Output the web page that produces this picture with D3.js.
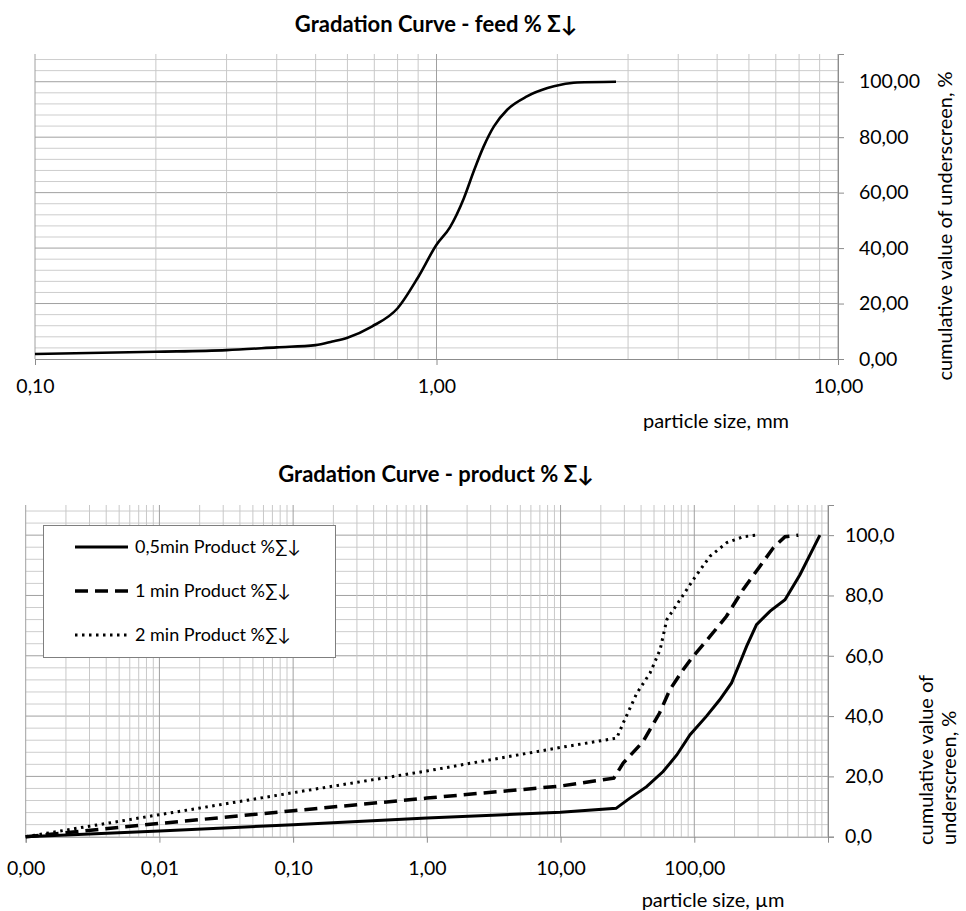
<!DOCTYPE html>
<html>
<head>
<meta charset="utf-8">
<script src="https://cdnjs.cloudflare.com/ajax/libs/d3/7.8.5/d3.min.js"></script>
<style>
  body { margin: 0; background: #fff; }
  svg { display: block; font-family: Lato, "Open Sans", "Noto Sans", sans-serif; }
</style>
</head>
<body>
<div id="chart"></div>
<script>
// feed curve (mm, cumulative %)
var feedSize = [0.1, 0.2, 0.3, 0.4, 0.5, 0.55, 0.6, 0.69, 0.8, 0.9, 1.0, 1.08, 1.17, 1.24, 1.31, 1.39, 1.5, 1.68, 1.89, 2.04, 2.24, 2.8];
var feedCum  = [1.8, 2.6, 3.2, 4.2, 5.0, 6.3, 7.7, 11.7, 18.3, 29.5, 41.2, 47.5, 58.0, 68.0, 76.6, 83.9, 89.9, 94.7, 97.7, 98.9, 99.7, 100];

// product curves (µm, cumulative %)
var p05Size = [0.001, 0.01, 0.1, 1, 10, 26, 33, 44, 58.5, 74, 93, 123, 155, 190, 219, 246, 292, 369, 477, 617, 870];
var p05Cum  = [0, 1.9, 4.0, 6.2, 8.1, 9.4, 12.8, 16.6, 21.6, 27.1, 33.8, 39.9, 45.4, 51.0, 57.6, 63.1, 70.3, 74.8, 78.6, 86.9, 100];
var p1Size  = [0.001, 0.01, 0.1, 1, 10, 25, 29.4, 41.5, 55, 65.6, 82.5, 98, 131, 174, 232, 310, 390, 477, 600];
var p1Cum   = [0, 4.4, 8.6, 12.8, 16.8, 19.4, 24.4, 31.6, 41.0, 48.7, 55.4, 59.8, 66.4, 73.1, 82.0, 89.7, 95.8, 99.5, 100];
var p2Size  = [0.001, 0.01, 0.1, 1, 10, 26.3, 29.4, 37.2, 46.7, 55.5, 62.3, 78.3, 98.5, 131, 175, 233, 293];
var p2Cum   = [0, 7.3, 14.6, 21.8, 29.6, 32.7, 37.7, 47.6, 54.3, 62.0, 72.0, 78.6, 85.3, 93.0, 97.5, 99.5, 100];

var legendNames = ["0,5min Product %∑↓", "1 min Product %∑↓", "2 min Product %∑↓"];

var topXTicks = [0.1, 1, 10];
var topYTicks = [0, 20, 40, 60, 80, 100];
var botXTicks = [0.001, 0.01, 0.1, 1, 10, 100];
var botYTicks = [0, 20, 40, 60, 80, 100];

var loc = d3.formatLocale({decimal: ",", thousands: ".", grouping: [3], currency: ["", ""]});
var f2 = loc.format(".2f"), f1 = loc.format(".1f");

var svg = d3.select("#chart").append("svg")
    .attr("width", 966).attr("height", 911);

function minorTicks(lo, hi) {
  var out = [];
  for (var e = Math.round(Math.log10(lo)); e < Math.round(Math.log10(hi)); e++) {
    for (var m = 1; m <= 9; m++) out.push(m * Math.pow(10, e));
  }
  out.push(hi);
  return out;
}

function drawPanel(opt) {
  var x = d3.scaleLog().domain(opt.xDomain).range([opt.left, opt.right]);
  var y = d3.scaleLinear().domain([0, 110]).range([opt.bottom, opt.top]);
  var g = svg.append("g");

  // horizontal grid, every 4 units, darker every 20
  d3.range(4, 110, 4).forEach(function(v) {
    g.append("line")
      .attr("x1", opt.left).attr("x2", opt.right)
      .attr("y1", y(v)).attr("y2", y(v))
      .attr("stroke", v % 20 === 0 ? "#a0a0a0" : "#cdcdcd").attr("stroke-width", 1);
  });
  // vertical grid
  minorTicks(opt.xDomain[0], opt.xDomain[1]).forEach(function(v) {
    var major = Math.abs(Math.log10(v) - Math.round(Math.log10(v))) < 1e-9;
    g.append("line")
      .attr("x1", x(v)).attr("x2", x(v))
      .attr("y1", opt.top).attr("y2", opt.bottom)
      .attr("stroke", major ? "#a0a0a0" : "#c8c8c8").attr("stroke-width", 1);
  });

  // axes
  var xAxis = d3.axisBottom(x).tickValues(opt.xTicks).tickFormat(opt.xFormat).tickSize(6);
  var gx = g.append("g").attr("transform", "translate(0," + opt.bottom + ")").call(xAxis);
  gx.attr("font-family", null);
  gx.select(".domain").attr("stroke", "#8c8c8c");
  gx.selectAll(".tick line").attr("stroke", "#8c8c8c");
  gx.selectAll(".tick text").attr("font-size", 19.5).attr("fill", "#000").attr("dy", opt.xLabelDy);

  var yAxis = d3.axisRight(y).tickValues(opt.yTicks).tickFormat(opt.yFormat).tickSize(6).tickPadding(opt.yPad);
  var gy = g.append("g").attr("transform", "translate(" + opt.right + ",0)").call(yAxis);
  gy.attr("font-family", null);
  gy.select(".domain").attr("stroke", "#8c8c8c");
  gy.selectAll(".tick line").attr("stroke", "#8c8c8c");
  gy.selectAll(".tick text").attr("font-size", 19.5).attr("fill", "#000");

  return {x: x, y: y, g: g};
}

// ---------- top panel ----------
var feedPanel = drawPanel({
  xDomain: [0.1, 10], left: 35, right: 838, top: 54, bottom: 359,
  xTicks: topXTicks, yTicks: topYTicks, xFormat: f2, yFormat: f2, xLabelDy: "1.3em", yPad: 15
});

var feedData = feedSize.map(function(d, i) { return [d, feedCum[i]]; });
feedPanel.g.append("path")
  .datum(feedData)
  .attr("fill", "none").attr("stroke", "#000").attr("stroke-width", 2.6)
  .attr("d", d3.line().curve(d3.curveMonotoneX)
    .x(function(d) { return feedPanel.x(d[0]); })
    .y(function(d) { return feedPanel.y(d[1]); }));

svg.append("text").attr("x", 436).attr("y", 32).attr("text-anchor", "middle")
  .attr("font-size", 22).attr("font-weight", "bold")
  .text("Gradation Curve - feed % Σ↓");
svg.append("text").attr("x", 716).attr("y", 428).attr("text-anchor", "middle")
  .attr("font-size", 20).text("particle size, mm");
svg.append("text").attr("transform", "translate(952,226) rotate(-90)")
  .attr("text-anchor", "middle").attr("font-size", 20)
  .text("cumulative value of underscreen, %");

// ---------- bottom panel ----------
var prodPanel = drawPanel({
  xDomain: [0.001, 1000], left: 25.7, right: 828, top: 505, bottom: 836.7,
  xTicks: botXTicks, yTicks: botYTicks, xFormat: f2, yFormat: f1, xLabelDy: "1.5em", yPad: 11
});

var series = [
  {size: p05Size, cum: p05Cum, dash: null, width: 3},
  {size: p1Size, cum: p1Cum, dash: "13,7", width: 3.5},
  {size: p2Size, cum: p2Cum, dash: "2.5,4.5", width: 3}
];

var line = d3.line()
  .x(function(d) { return prodPanel.x(d[0]); })
  .y(function(d) { return prodPanel.y(d[1]); });

series.forEach(function(s) {
  var data = s.size.map(function(d, i) { return [d, s.cum[i]]; });
  prodPanel.g.append("path").datum(data)
    .attr("fill", "none").attr("stroke", "#000")
    .attr("stroke-width", s.width)
    .attr("stroke-dasharray", s.dash)
    .attr("d", line);
});

// legend
var leg = svg.append("g");
leg.append("rect").attr("x", 43.5).attr("y", 525.5).attr("width", 292).attr("height", 132)
  .attr("fill", "#fff").attr("stroke", "#7f7f7f").attr("stroke-width", 1);
series.forEach(function(s, i) {
  var yy = 547 + i * 44;
  leg.append("line").attr("x1", 75).attr("x2", 128).attr("y1", yy).attr("y2", yy)
    .attr("stroke", "#000").attr("stroke-width", s.width).attr("stroke-dasharray", s.dash);
  leg.append("text").attr("x", 135).attr("y", yy + 6).attr("font-size", 18)
    .text(legendNames[i]);
});

svg.append("text").attr("x", 436).attr("y", 482).attr("text-anchor", "middle")
  .attr("font-size", 22).attr("font-weight", "bold")
  .text("Gradation Curve - product % Σ↓");
svg.append("text").attr("x", 713).attr("y", 907).attr("text-anchor", "middle")
  .attr("font-size", 20).text("particle size, µm");
svg.append("text").attr("transform", "translate(933,845) rotate(-90)")
  .attr("text-anchor", "start").attr("font-size", 20)
  .text("cumulative value of");
svg.append("text").attr("transform", "translate(956,845) rotate(-90)")
  .attr("text-anchor", "start").attr("font-size", 20)
  .text("underscreen, %");
</script>
</body>
</html>
